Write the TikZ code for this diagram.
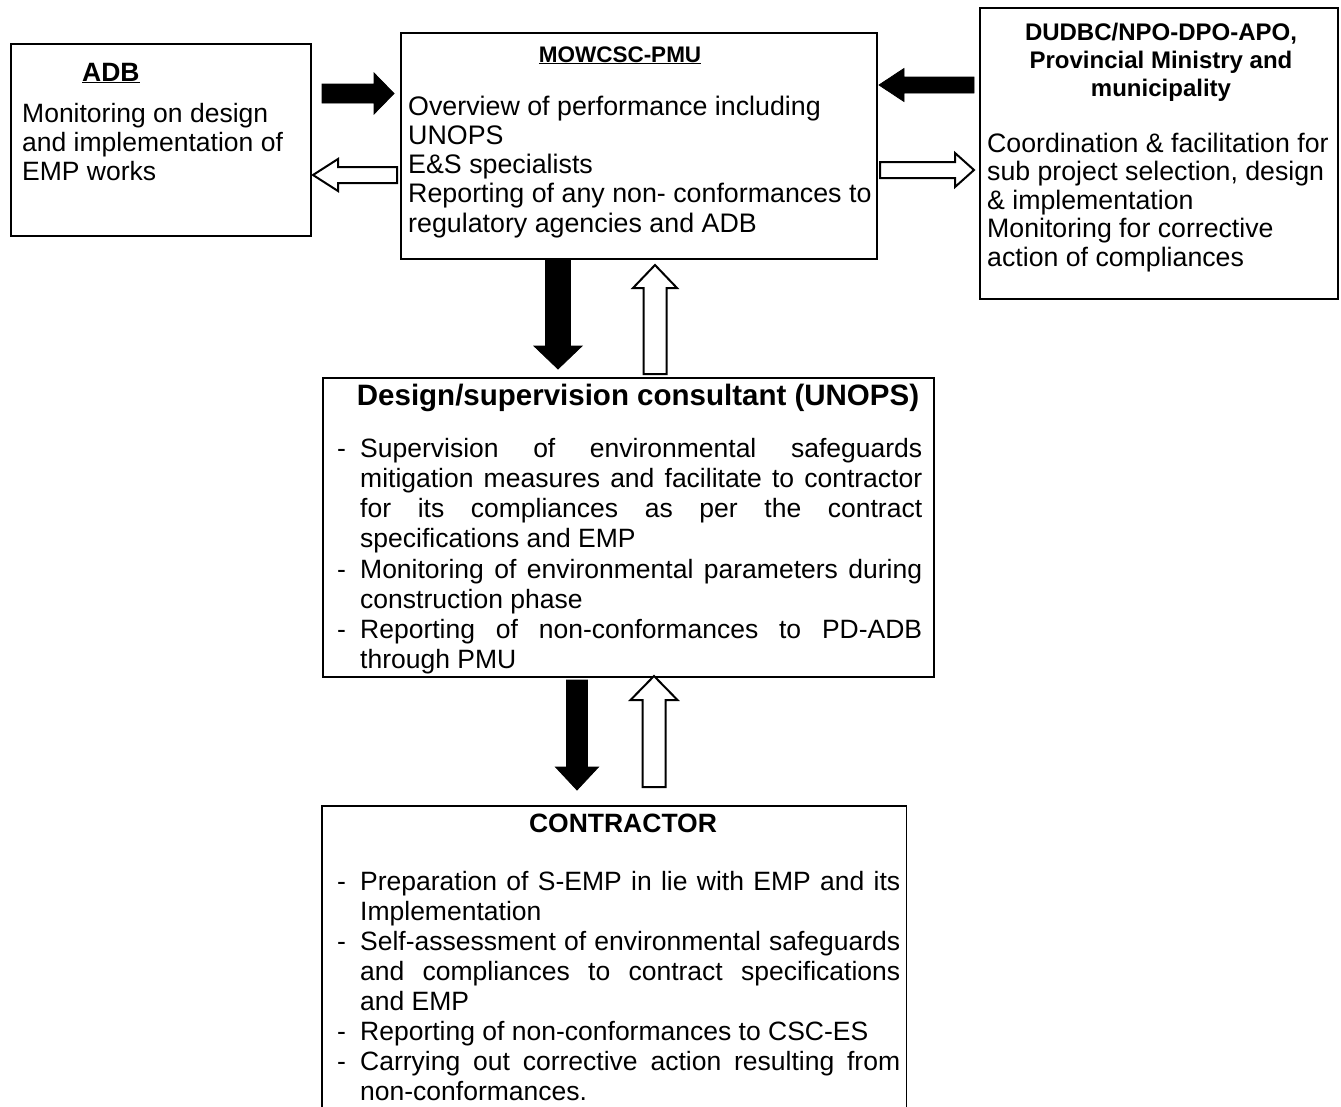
\documentclass[tikz,border=0pt]{standalone}
\usepackage{fontspec}
\setmainfont{Liberation Sans}
\newcommand\harr[7]{%
  \pgfmathsetmacro\arrHb{#2-(#6)*sign(#2-#1)}%
  \draw[#7] ({#1},{#3-#4}) -- ({\arrHb},{#3-#4}) -- ({\arrHb},{#3-#5}) -- ({#2},{#3}) -- ({\arrHb},{#3+#5}) -- ({\arrHb},{#3+#4}) -- ({#1},{#3+#4}) -- cycle;}
\newcommand\varr[7]{%
  \pgfmathsetmacro\arrHb{#2-(#6)*sign(#2-#1)}%
  \draw[#7] ({#3-#4},{#1}) -- ({#3-#4},{\arrHb}) -- ({#3-#5},{\arrHb}) -- ({#3},{#2}) -- ({#3+#5},{\arrHb}) -- ({#3+#4},{\arrHb}) -- ({#3+#4},{#1}) -- cycle;}
\newcommand\bul[1]{\par\noindent\hangindent=23pt\hangafter=1\makebox[23pt][l]{-}#1\par}
\begin{document}
\begin{tikzpicture}[x=1pt,y=-1pt,
  box/.style={draw, line width=1.7pt, inner sep=0pt, anchor=north west},
  txt/.style={inner sep=0pt, anchor=north west, align=left},
  para/.style={inner sep=0pt, anchor=north west, align=justify, text width=#1},
  head/.style={inner sep=0pt, anchor=base},
  blk/.style={fill=black, draw=black, line width=0.8pt},
  wht/.style={fill=white, draw=black, line width=2pt}]
\useasboundingbox (0,0) rectangle (1341,1106);
\fill[white] (0,0) rectangle (1341,1106);
% boxes
\node[box, minimum width=300pt, minimum height=192pt] (adb) at (10,43) {};
\node[box, minimum width=476pt, minimum height=226pt] (pmu) at (400,32) {};
\node[box, minimum width=358pt, minimum height=291pt] (dud) at (979,7) {};
\node[box, minimum width=611pt, minimum height=299pt] (des) at (322,377) {};
\node[inner sep=0pt, anchor=north west, minimum width=584pt, minimum height=305pt] (con) at (322,806) {};
\draw[line width=1.7pt] (con.south west) -- (con.north west) -- (con.north east) -- (con.south east);
% ADB
\node[head, font=\bfseries\fontsize{26.5}{30}\selectfont, anchor=base west] (adbh) at (82,81) {\underline{ADB}};
\node[txt, font=\fontsize{26.5}{29}\selectfont] (adbt) at (22,101.7) {\strut Monitoring on design\\and implementation of\\EMP works};
% PMU
\node[head, font=\bfseries\fontsize{22.5}{26}\selectfont] (pmuh) at (620,62) {\underline{MOWCSC-PMU}};
\node[txt, font=\fontsize{26.8}{29.2}\selectfont] (pmut) at (408,94.6) {\strut Overview of performance including\\UNOPS\\E\&S specialists\\Reporting of any non- conformances to\\regulatory agencies and ADB};
% DUDBC
\node[inner sep=0pt, anchor=north, align=center, font=\bfseries\fontsize{24}{28}\selectfont] (dudh) at (1161,20.4) {\strut DUDBC/NPO-DPO-APO,\\Provincial Ministry and\\municipality};
\node[txt, font=\fontsize{26.7}{28.5}\selectfont] (dudt) at (987,132) {\strut Coordination \& facilitation for\\sub project selection, design\\\& implementation\\Monitoring for corrective\\action of compliances};
% Design
\node[head, font=\bfseries\fontsize{29.5}{34}\selectfont] (desh) at (638,405) {Design/supervision consultant (UNOPS)};
\node[para=585pt, font=\fontsize{26.5}{30.2}\selectfont] (dest) at (337,426.9) {\tolerance=10000\hyphenpenalty=10000\exhyphenpenalty=10000\parindent=0pt
\bul{\strut Supervision of environmental safeguards\linebreak mitigation measures and facilitate to contractor\linebreak for its compliances as per the contract\linebreak specifications and EMP}
\bul{Monitoring of environmental parameters during\linebreak construction phase}
\bul{Reporting of non-conformances to PD-ADB\linebreak through PMU}};
% Contractor
\node[head, font=\bfseries\fontsize{26.5}{30}\selectfont] (conh) at (623,832) {CONTRACTOR};
\node[para=563pt, font=\fontsize{26.5}{30}\selectfont] (cont) at (337,860) {\tolerance=10000\hyphenpenalty=10000\exhyphenpenalty=10000\parindent=0pt
\bul{\strut Preparation of S-EMP in lie with EMP and its\linebreak Implementation}
\bul{Self-assessment of environmental safeguards\linebreak and compliances to contract specifications\linebreak and EMP}
\bul{Reporting of non-conformances to CSC-ES}
\bul{Carrying out corrective action resulting from\linebreak non-conformances.}};
% arrows
\harr{322}{394}{93.5}{9.5}{20.5}{20}{blk}
\harr{397}{313}{175}{8}{16}{25}{wht}
\harr{974}{879}{85}{8}{16.5}{25}{blk}
\harr{880}{974}{170}{8}{17}{19}{wht}
\varr{259}{369}{558}{12.5}{24}{23}{blk}
\varr{374}{265}{655}{11.5}{22}{23}{wht}
\varr{680}{790}{577}{10.5}{21.5}{23}{blk}
\varr{787}{676}{654}{11.5}{23.5}{24}{wht}
\end{tikzpicture}
\end{document}
